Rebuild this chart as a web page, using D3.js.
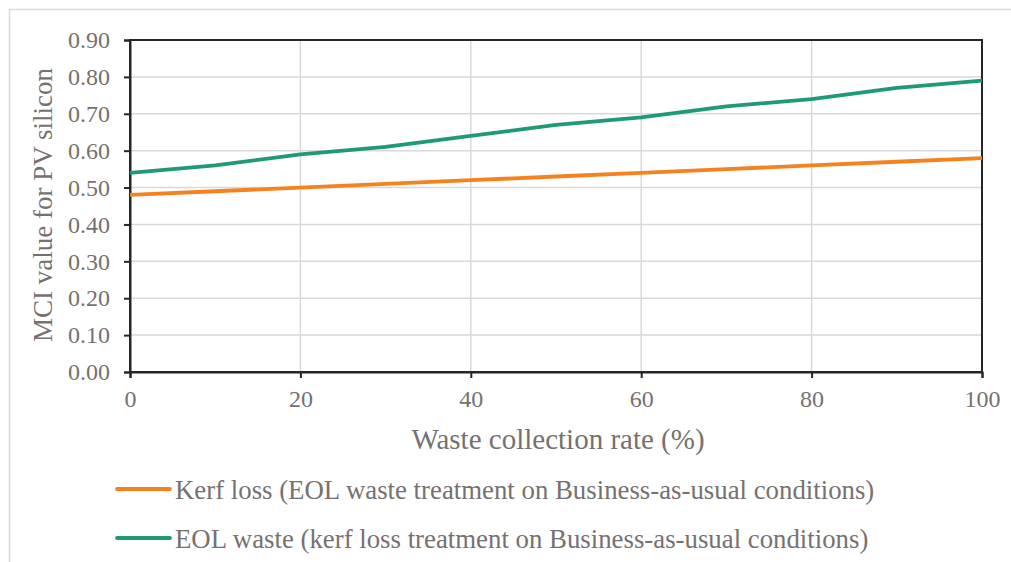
<!DOCTYPE html>
<html>
<head>
<meta charset="utf-8">
<script src="https://cdn.jsdelivr.net/npm/d3@7"></script>
<style>
  body { margin: 0; background: #fff; }
  svg text { fill: #767171; }
</style>
</head>
<body>
<div id="chart"></div>
<script>
const rates = [0, 10, 20, 30, 40, 50, 60, 70, 80, 90, 100];
const kerfLoss = [0.48, 0.49, 0.50, 0.51, 0.52, 0.53, 0.54, 0.55, 0.56, 0.57, 0.58];
const eolWaste = [0.54, 0.56, 0.59, 0.61, 0.64, 0.67, 0.69, 0.72, 0.74, 0.77, 0.79];
const xTicks = [0, 20, 40, 60, 80, 100];
const yTicks = [0, 0.1, 0.2, 0.3, 0.4, 0.5, 0.6, 0.7, 0.8, 0.9];
const seriesNames = [
  "Kerf loss (EOL waste treatment on Business-as-usual conditions)",
  "EOL waste (kerf loss treatment on Business-as-usual conditions)"
];
const seriesColors = ["#F5821F", "#1F9A78"];

const width = 1011, height = 562;
const margin = { left: 130, top: 40, right: 29, bottom: 190 };
const innerWidth = width - margin.left - margin.right;
const innerHeight = height - margin.top - margin.bottom;
const serif = "'Liberation Serif', 'Times New Roman', Times, Tinos, 'Noto Serif', FreeSerif, 'DejaVu Serif', serif";

const svg = d3.select("#chart")
  .append("svg")
  .attr("width", width)
  .attr("height", height)
  .attr("font-family", serif);

// outer frame (top + left edges visible)
svg.append("path")
  .attr("d", `M${width},9.5 H9.5 V${height}`)
  .attr("fill", "none")
  .attr("stroke", "#d9d9d9")
  .attr("stroke-width", 1.5);

const chart = svg.append("g")
  .attr("transform", `translate(${margin.left},${margin.top})`);

const x = d3.scaleLinear().domain([0, 100]).range([0, innerWidth]);
const y = d3.scaleLinear().domain([0, 0.9]).range([innerHeight, 0]);

// gridlines
chart.append("g")
  .selectAll("line")
  .data(yTicks.slice(1))
  .join("line")
  .attr("x1", 0).attr("x2", innerWidth)
  .attr("y1", d => y(d)).attr("y2", d => y(d))
  .attr("stroke", "#d9d9d9").attr("stroke-width", 1.5);

chart.append("g")
  .selectAll("line")
  .data(xTicks.slice(1))
  .join("line")
  .attr("y1", 0).attr("y2", innerHeight)
  .attr("x1", d => x(d)).attr("x2", d => x(d))
  .attr("stroke", "#d9d9d9").attr("stroke-width", 1.5);

// plot border
chart.append("rect")
  .attr("width", innerWidth).attr("height", innerHeight)
  .attr("fill", "none")
  .attr("stroke", "#262626")
  .attr("stroke-width", 2);

// axes
const xAxis = chart.append("g")
  .attr("transform", `translate(0,${innerHeight})`)
  .call(d3.axisBottom(x).tickValues(xTicks).tickSize(6).tickPadding(12).tickFormat(d3.format("d")));

const yAxis = chart.append("g")
  .call(d3.axisLeft(y).tickValues(yTicks).tickSize(6).tickPadding(14).tickFormat(d3.format(".2f")));

[xAxis, yAxis].forEach(a => {
  a.attr("font-family", serif);
  a.select(".domain").attr("stroke", "#262626").attr("stroke-width", 2);
  a.selectAll(".tick line").attr("stroke", "#262626").attr("stroke-width", 2);
  a.selectAll(".tick text")
    .attr("font-size", "24px")
    .attr("fill", "#767171");
});

// lines
const line = d3.line()
  .x((d, i) => x(rates[i]))
  .y(d => y(d));

[kerfLoss, eolWaste].forEach((vals, i) => {
  chart.append("path")
    .datum(vals)
    .attr("d", line)
    .attr("fill", "none")
    .attr("stroke", seriesColors[i])
    .attr("stroke-width", 3.8)
    .attr("stroke-linejoin", "round");
});

// axis titles
svg.append("text")
  .attr("x", margin.left + innerWidth / 2 + 2)
  .attr("y", 449)
  .attr("text-anchor", "middle")
  .attr("font-size", "29px")
  .text("Waste collection rate (%)");

svg.append("text")
  .attr("transform", `translate(52,${margin.top + innerHeight / 2 - 1}) rotate(-90)`)
  .attr("text-anchor", "middle")
  .attr("font-size", "27px")
  .text("MCI value for PV silicon");

// legend
const legend = svg.append("g")
  .attr("transform", "translate(117,489)");

seriesNames.forEach((name, i) => {
  const row = legend.append("g")
    .attr("transform", `translate(0,${i * 49})`);

  row.append("line")
    .attr("x1", 0).attr("x2", 53)
    .attr("stroke", seriesColors[i])
    .attr("stroke-width", 3.8)
    .attr("stroke-linecap", "round");

  row.append("text")
    .attr("x", 58)
    .attr("y", 10)
    .attr("font-size", "26.8px")
    .text(name);
});
</script>
</body>
</html>
